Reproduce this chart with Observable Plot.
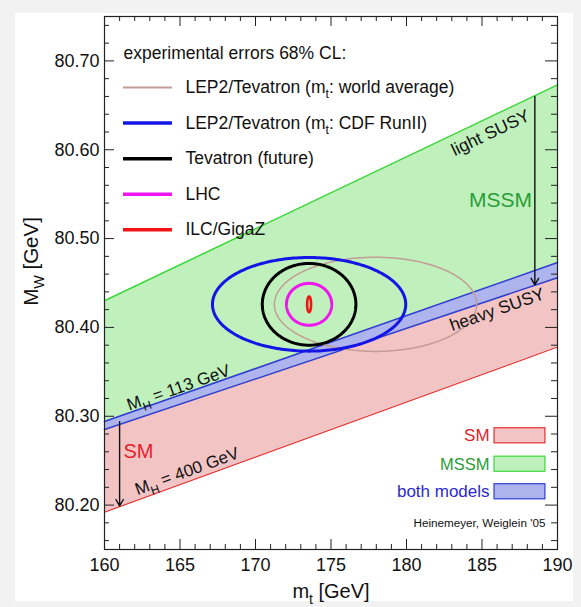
<!DOCTYPE html>
<html><head><meta charset="utf-8">
<script src="https://cdn.jsdelivr.net/npm/d3@7"></script>
<script src="https://cdn.jsdelivr.net/npm/@observablehq/plot@0.6"></script>
<style>
html,body{margin:0;padding:0;background:#f2f2f2;width:581px;height:607px;overflow:hidden;}
#chart{position:absolute;left:15px;top:13px;}
</style></head><body><div id="chart"></div>
<script>
// ---- band edges (value at m_t = 160 and 190) ----
const mtEnds = [160, 190];
const lightSusyEdge = [80.430, 80.673];
const mh113Upper = [80.294, 80.473];
const mh113Lower = [80.285, 80.456];
const mh400Edge = [80.192, 80.378];

// ---- 68% CL ellipses ----
const ellipseLabels = ["LEP2/Tevatron (m_{t}: world average)", "LEP2/Tevatron (m_{t}: CDF RunII)", "Tevatron (future)", "LHC", "ILC/GigaZ"];
const ellipseColors = ["#c39c96", "#1414e6", "#000000", "#f014f0", "#f01414"];
const ellipseMt = [177.95, 173.55, 173.55, 173.55, 173.55];
const ellipseMw = [80.426, 80.426, 80.426, 80.426, 80.426];
const ellipseErrMt = [6.7, 6.4, 3.1, 1.5, 0.13];
const ellipseErrMw = [0.053, 0.0527, 0.046, 0.0236, 0.0088];

// ---- ticks ----
const xMajorTicks = [160, 165, 170, 175, 180, 185, 190];
const xMinorTicks = [161, 162, 163, 164, 166, 167, 168, 169, 171, 172, 173, 174, 176, 177, 178, 179, 181, 182, 183, 184, 186, 187, 188, 189];
const yMajorTicks = [80.2, 80.3, 80.4, 80.5, 80.6, 80.7];
const yMinorTicks = [80.16, 80.18, 80.22, 80.24, 80.26, 80.28, 80.32, 80.34, 80.36, 80.38, 80.42, 80.44, 80.46, 80.48, 80.52, 80.54, 80.56, 80.58, 80.62, 80.64, 80.66, 80.68, 80.72, 80.74];

// ---- annotation positions (data units) ----
const legendHeader = "experimental errors 68% CL:";
const legendHeaderPos = [161.26, 80.709];
const legendRowsMw = [80.67, 80.63, 80.59, 80.55, 80.51];
const legendLineMt = [161.26, 164.5];
const legendTextMt = 165.36;

const arrowMt = [161.0, 188.5];
const arrowFrom = [80.294, 80.66];
const arrowTo = [80.199, 80.448];

const modelLegendNames = ["SM", "MSSM", "both models"];
const modelLegendMw = [80.278, 80.246, 80.215];
const modelLegendTextMt = 185.5;
const modelLegendBoxMt = [185.83, 189.2];
const modelLegendBoxHalf = 0.0085;

// ---- styling ----
const fillRed = "#f3c4c4", fillGreen = "#c0f0bc", fillBlue = "#adb4ee";
const lineRed = "#e53030", lineGreen = "#3cd83c", lineBlue = "#2f3fd0";
const txtRed = "#e6202a", txtGreen = "#2a9d38", txtBlue = "#2a2ad0";
const FONT = "Liberation Sans, Arial, Helvetica, sans-serif";

const W = 558, H = 588, mL = 89, mR = 16, mT = 3, mB = 52;
const innerW = W - mL - mR, innerH = H - mT - mB;
const xDom = [160, 190], yDom = [80.15, 80.75];
const angle = (edge) => -Math.atan2((edge[1] - edge[0]) * innerH / (yDom[1] - yDom[0]), innerW) * 180 / Math.PI;

const band = (lo, hi) => mtEnds.map((mt, i) => ({mt, lo: lo[i], hi: hi[i]}));
const edge = (e) => mtEnds.map((mt, i) => ({mt, mw: e[i]}));

function ellipsePts(i) {
  const pts = [];
  for (let k = 0; k <= 240; k++) {
    const t = (k / 240) * 2 * Math.PI;
    pts.push({mt: ellipseMt[i] + ellipseErrMt[i] * Math.cos(t), mw: ellipseMw[i] + ellipseErrMw[i] * Math.sin(t)});
  }
  return pts;
}
const ellipseWidths = [1.5, 3, 3, 3, 2.6];
const legendWidths = [2, 3.5, 3.5, 3.5, 3.5];

const marks = [
  Plot.areaY(band(mh400Edge, mh113Upper), {x: "mt", y1: "lo", y2: "hi", fill: fillRed}),
  Plot.areaY(band(mh113Lower, lightSusyEdge), {x: "mt", y1: "lo", y2: "hi", fill: fillGreen}),
  Plot.areaY(band(mh113Lower, mh113Upper), {x: "mt", y1: "lo", y2: "hi", fill: fillBlue}),
  Plot.line(edge(lightSusyEdge), {x: "mt", y: "mw", stroke: lineGreen, strokeWidth: 1.5}),
  Plot.line(edge(mh113Upper), {x: "mt", y: "mw", stroke: lineBlue, strokeWidth: 1.5}),
  Plot.line(edge(mh113Lower), {x: "mt", y: "mw", stroke: lineBlue, strokeWidth: 1.5}),
  Plot.line(edge(mh400Edge), {x: "mt", y: "mw", stroke: lineRed, strokeWidth: 1.2}),
  ...ellipseLabels.map((_, i) => Plot.line(ellipsePts(i), {x: "mt", y: "mw", stroke: ellipseColors[i], strokeWidth: ellipseWidths[i]})),
  Plot.arrow(arrowMt.map((mt, i) => ({mt, a: arrowFrom[i], b: arrowTo[i]})), {x1: "mt", x2: "mt", y1: "a", y2: "b", stroke: "#111", strokeWidth: 1.4, headLength: 8}),
  // region labels
  Plot.text(["light SUSY"], {x: 185.56, y: 80.619, rotate: angle(lightSusyEdge), fontSize: 17.5, fill: "#111"}),
  Plot.text(["heavy SUSY"], {x: 186.0, y: 80.42, rotate: angle(mh113Upper), fontSize: 17.5, fill: "#111"}),
  Plot.text(["M_{H} = 113 GeV"], {x: 164.9, y: 80.332, rotate: angle(mh113Upper), fontSize: 17, fill: "#111"}),
  Plot.text(["M_{H} = 400 GeV"], {x: 165.46, y: 80.238, rotate: angle(mh400Edge), fontSize: 17, fill: "#111"}),
  Plot.text(["MSSM"], {x: 186.23, y: 80.5436, fontSize: 21, fill: txtGreen}),
  Plot.text(["SM"], {x: 162.25, y: 80.2607, fontSize: 20, fill: txtRed}),
  // top-left legend
  Plot.text([legendHeader], {x: legendHeaderPos[0], y: legendHeaderPos[1], textAnchor: "start", fontSize: 17.5, fill: "#111"}),
  ...ellipseLabels.map((lab, i) => Plot.ruleY([legendRowsMw[i]], {x1: legendLineMt[0], x2: legendLineMt[1], stroke: ellipseColors[i], strokeWidth: legendWidths[i]})),
  ...ellipseLabels.map((lab, i) => Plot.text([lab], {x: legendTextMt, y: legendRowsMw[i], textAnchor: "start", fontSize: 17.5, fill: "#111"})),
  // bottom-right legend
  ...modelLegendNames.map((n, i) => Plot.rect([0], {x1: modelLegendBoxMt[0], x2: modelLegendBoxMt[1], y1: modelLegendMw[i] - modelLegendBoxHalf, y2: modelLegendMw[i] + modelLegendBoxHalf,
    fill: [fillRed, fillGreen, fillBlue][i], stroke: [lineRed, lineGreen, lineBlue][i], strokeWidth: 1.2})),
  ...modelLegendNames.map((n, i) => Plot.text([n], {x: modelLegendTextMt, y: modelLegendMw[i], textAnchor: "end", fontSize: [17, 16.5, 17][i], fill: [txtRed, txtGreen, txtBlue][i]})),
  Plot.text(["Heinemeyer, Weiglein '05"], {x: 189.2, y: 80.179, textAnchor: "end", fontSize: 11.7, fill: "#111"}),
  // inward ticks
  Plot.tickX(xMinorTicks, {x: d => d, insetTop: innerH - 5, stroke: "#222"}),
  Plot.tickX(xMajorTicks, {x: d => d, insetTop: innerH - 10, stroke: "#222"}),
  Plot.tickX(xMinorTicks, {x: d => d, insetBottom: innerH - 5, stroke: "#222"}),
  Plot.tickX(xMajorTicks, {x: d => d, insetBottom: innerH - 10, stroke: "#222"}),
  Plot.tickY(yMinorTicks, {y: d => d, insetRight: innerW - 5, stroke: "#222"}),
  Plot.tickY(yMajorTicks, {y: d => d, insetRight: innerW - 10, stroke: "#222"}),
  Plot.tickY(yMinorTicks, {y: d => d, insetLeft: innerW - 6, stroke: "#222"}),
  Plot.tickY(yMajorTicks, {y: d => d, insetLeft: innerW - 12, stroke: "#222"}),
  Plot.frame({stroke: "#222", strokeWidth: 1.2}),
  Plot.axisX({ticks: xMajorTicks, tickSize: 0, tickPadding: 9, fontSize: 18, label: null, tickFormat: d => String(d), fill: "#111"}),
  Plot.axisY({ticks: yMajorTicks, tickSize: 0, tickPadding: 5, fontSize: 18, label: null, tickFormat: d3.format(".2f"), fill: "#111"}),
  Plot.text(["m_{t} [GeV]"], {frameAnchor: "bottom", lineAnchor: "bottom", dy: 48, fontSize: 20, fill: "#111"}),
  Plot.text(["M_{W} [GeV]"], {frameAnchor: "left", textAnchor: "middle", rotate: -90, dx: -73, dy: -21.5, fontSize: 20.5, fill: "#111"})
];

const chart = Plot.plot({
  width: W, height: H,
  marginLeft: mL, marginRight: mR, marginTop: mT, marginBottom: mB,
  x: {domain: xDom},
  y: {domain: yDom},
  style: {background: "white", fontFamily: FONT, fontSize: "17px", color: "#111", overflow: "visible"},
  marks
});
document.getElementById("chart").appendChild(chart);

// subscripts: turn "_{..}" into shifted tspans
const NS = "http://www.w3.org/2000/svg";
chart.querySelectorAll("text").forEach(t => {
  const s = t.textContent;
  if (!s.includes("_{")) return;
  const fs = parseFloat(getComputedStyle(t).fontSize) || 17;
  const parts = s.split(/_\{([^}]*)\}/);
  while (t.firstChild) t.removeChild(t.firstChild);
  let shifted = false;
  parts.forEach((p, i) => {
    if (!p) return;
    const ts = document.createElementNS(NS, "tspan");
    ts.textContent = p;
    if (i % 2 === 1) { ts.setAttribute("font-size", (fs * 0.7).toFixed(2)); ts.setAttribute("dy", (fs * 0.3).toFixed(2)); shifted = true; }
    else if (shifted) { ts.setAttribute("dy", (-fs * 0.3).toFixed(2)); shifted = false; }
    t.appendChild(ts);
  });
});
</script></body></html>
